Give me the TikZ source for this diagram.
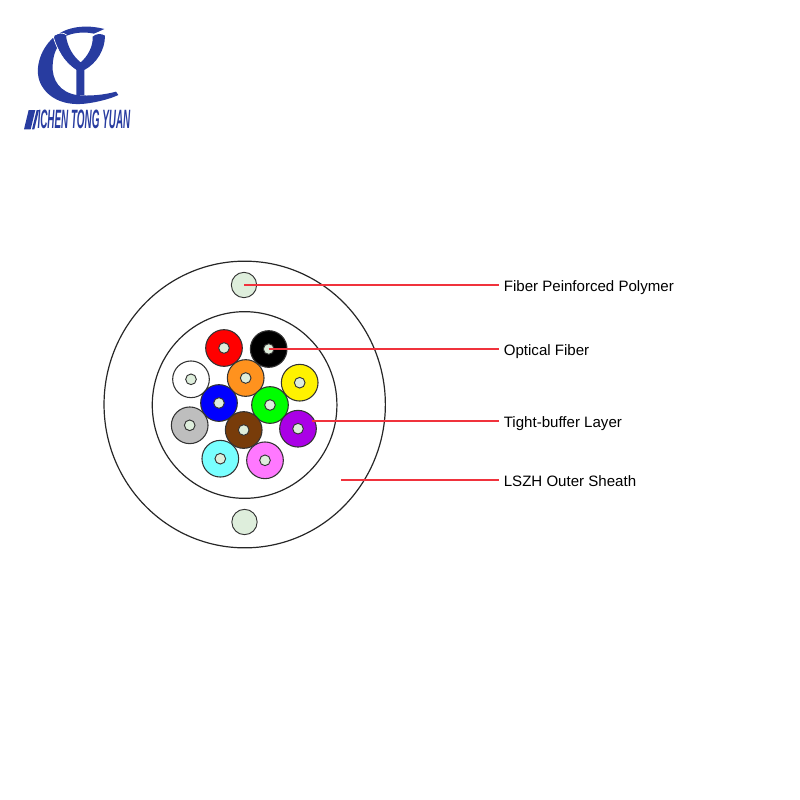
\documentclass[tikz,border=0pt]{standalone}
\usepackage{fontspec}
\setmainfont{Liberation Sans}
\usetikzlibrary{positioning,shapes.geometric}
\definecolor{logoblue}{RGB}{40,60,160}
\definecolor{leadred}{RGB}{240,50,60}
\definecolor{corefill}{RGB}{222,238,220}
\definecolor{fbrorange}{RGB}{255,146,30}
\definecolor{fbrpurple}{RGB}{170,0,230}
\definecolor{fbrgray}{RGB}{190,190,190}
\definecolor{fbrbrown}{RGB}{120,60,10}
\definecolor{fbrcyan}{RGB}{120,255,255}
\definecolor{fbrpink}{RGB}{255,120,255}
\tikzset{
    fiber/.style={circle,draw=black!80,line width=0.8pt,minimum size=27.5pt,inner sep=0pt},
    core/.style={circle,draw=black!80,fill=corefill,line width=0.7pt,minimum size=8pt,inner sep=0pt},
    rod/.style={circle,draw=black!80,fill=corefill,line width=0.7pt,minimum size=19pt,inner sep=0pt},
    ring/.style={ellipse,draw=black!85,line width=0.9pt,inner sep=0pt},
    callout/.style={anchor=west,font=\fontsize{11.3pt}{13pt}\selectfont,inner sep=0pt,outer sep=4pt,text height=9.5pt,text depth=0.5pt},
    leader/.style={draw=leadred,line width=0.9pt}
}
\begin{document}
\begin{tikzpicture}[x=0.75pt,y=-0.75pt]
    \useasboundingbox (0,0) rectangle (800,800);

    % cable
    \node[ring,minimum width=211pt,minimum height=215pt] (sheath) at (244.7,404.5) {};
    \node[ring,minimum width=138.5pt,minimum height=140pt] (bundle) at (244.6,405) {};
    \node[rod] (rodtop) at (244,285) {};
    \node[rod] (rodbot) at (244.5,522) {};

    % fibers
    \foreach \name/\x/\y/\col in {red/224/348/red,black/268.7/349/black,orange/245.7/378/fbrorange,
        yellow/299.7/382.7/yellow,white/191/379.3/white,blue/219/403/blue,green/270/405/green,
        purple/298/428.7/fbrpurple,gray/189.7/425.3/fbrgray,brown/243.7/430/fbrbrown,
        cyan/220.3/458.7/fbrcyan,pink/265/460.3/fbrpink} {
        \node[fiber,fill=\col] (fbr\name) at (\x,\y) {};
        \node[core] (core\name) at (\x,\y) {};
    }

    % labels
    \coordinate (sheathpt) at (341,480);
    \coordinate (purplept) at (312,421);
    \node[callout] (labrod) at (498.5,285) {Fiber Peinforced Polymer};
    \node[callout] (labfiber) at (498.5,349) {Optical Fiber};
    \node[callout] (labbuffer) at (498.5,421) {Tight-buffer Layer};
    \node[callout] (labsheath) at (498.5,480) {LSZH Outer Sheath};
    \draw[leader] (rodtop.center) -- (labrod.west);
    \draw[leader] (coreblack.center) -- (labfiber.west);
    \draw[leader] (purplept) -- (labbuffer.west);
    \draw[leader] (sheathpt) -- (labsheath.west);

    % logo
    \begin{scope}[shift={(10,15)},x=0.25pt,y=-0.25pt]
        \fill[logoblue] (283,42) .. controls (230,28) and (170,33) .. (130,68)
            .. controls (88,105) and (70,170) .. (95,212)
            .. controls (120,255) and (170,272) .. (225,266)
            .. controls (260,262) and (300,252) .. (325,240)
            -- (318,230) .. controls (280,240) and (240,244) .. (200,240)
            .. controls (150,232) and (125,195) .. (128,150)
            .. controls (130,115) and (140,95) .. (155,85)
            -- (170,62) .. controls (195,52) and (225,50) .. (252,56) -- cycle;
        \fill[logoblue] (133,62) .. controls (145,55) and (160,55) .. (168,62)
            .. controls (172,95) and (190,125) .. (212,142)
            .. controls (232,125) and (250,95) .. (248,65)
            .. controls (258,55) and (275,55) .. (285,62)
            .. controls (285,105) and (260,145) .. (223,165)
            -- (223,240) -- (199,240) -- (199,165)
            .. controls (165,145) and (140,105) .. (133,62) -- cycle;
        \draw[white,line width=0.5pt] (130,66) .. controls (142,105) and (160,140) .. (197,165);
        \draw[white,line width=0.5pt] (130,62) .. controls (145,52) and (160,52) .. (170,60);
        \draw[white,line width=0.5pt] (247,62) .. controls (258,52) and (275,52) .. (288,60);
        \foreach \bx/\bw in {42/20,66/7} {
            \fill[logoblue] (\bx,343) -- (\bx+\bw,343) -- (\bx+\bw+14,285) -- (\bx+14,285) -- cycle;
        }
        \node[anchor=west,inner sep=0pt,text=logoblue,font=\bfseries\itshape\fontsize{14pt}{14pt}\selectfont] (logotext) at (82,314) {\scalebox{0.53}[1.42]{ICHEN TONG YUAN}};
    \end{scope}
\end{tikzpicture}
\end{document}
